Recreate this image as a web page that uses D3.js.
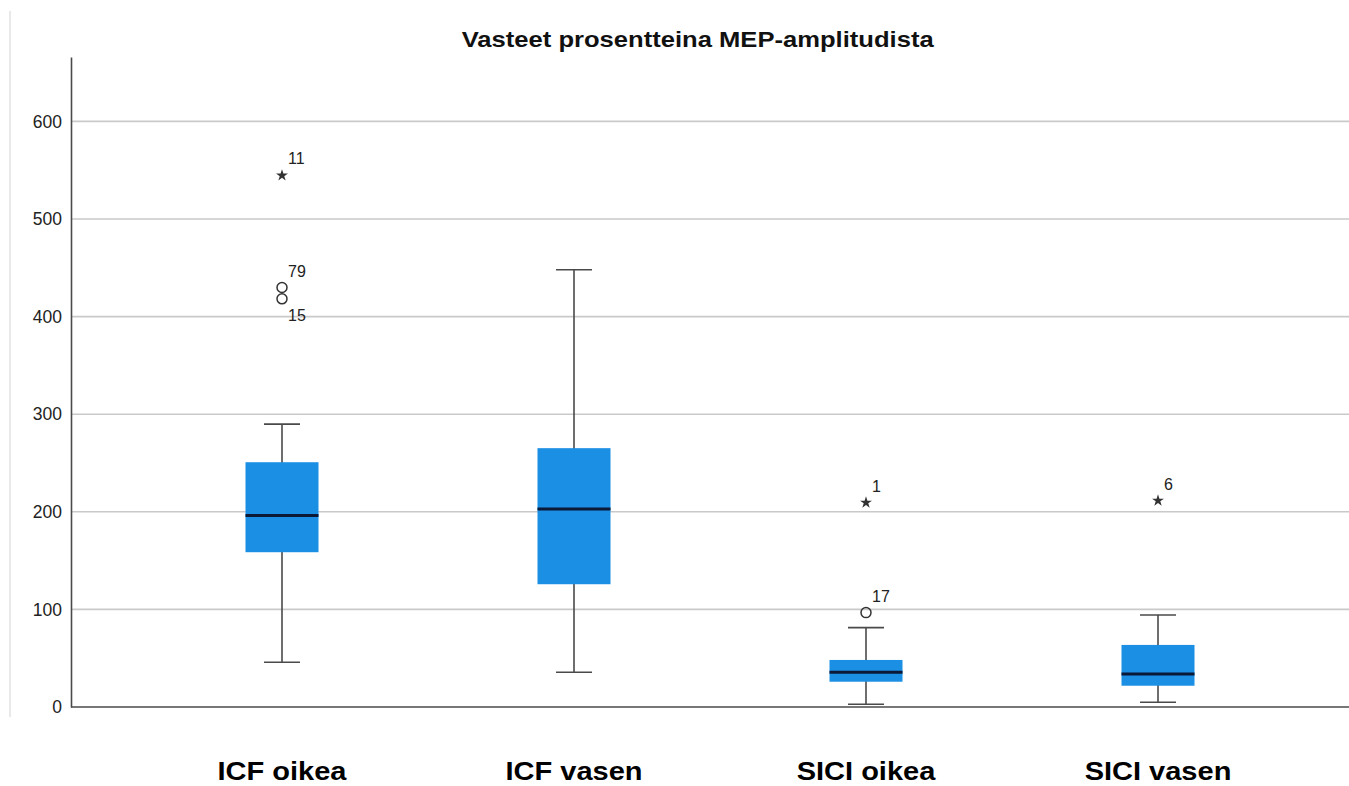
<!DOCTYPE html>
<html>
<head>
<meta charset="utf-8">
<script src="https://cdn.jsdelivr.net/npm/d3@7"></script>
<style>
  html, body { margin: 0; padding: 0; background: #fff; }
  svg { display: block; font-family: "Liberation Sans", Arial, sans-serif; }
</style>
</head>
<body>
<svg id="chart" width="1349" height="786"></svg>
<script>
// ---- data ----
const title = "Vasteet prosentteina MEP-amplitudista";
const categories = ["ICF oikea", "ICF vasen", "SICI oikea", "SICI vasen"];
const whiskerLow  = [45.8, 35.6, 2.8, 4.8];
const q1          = [158.6, 125.8, 25.9, 21.8];
const medians     = [196.1, 203.0, 35.6, 33.8];
const q3          = [250.8, 265.2, 48.2, 63.6];
const whiskerHigh = [289.8, 448.0, 81.3, 94.3];
// outliers: category, value, case label, type (circle = outlier, star = extreme)
const outlierCategory = ["ICF oikea", "ICF oikea", "ICF oikea", "SICI oikea", "SICI oikea", "SICI vasen"];
const outlierValue    = [544.6, 429.8, 418.2, 209.4, 96.7, 211.5];
const outlierLabel    = ["11", "79", "15", "1", "17", "6"];
const outlierType     = ["star", "circle", "circle", "star", "circle", "star"];
const yTicks = [0, 100, 200, 300, 400, 500, 600];
const yMax = 666;

// ---- layout ----
const svg = d3.select("#chart");
const axisX = 71, plotRight = 1349, plotTop = 57, plotBottom = 707;
const firstCenter = 282, lastCenter = 1158;

const x = d3.scalePoint().domain(categories).range([firstCenter, lastCenter]);
const y = d3.scaleLinear().domain([0, yMax]).range([plotBottom, plotTop]);

const boxW = 73, capW = 36;
const blue = "#1b8fe4", lineCol = "#4a4a4a";

// frame line at left
svg.append("line").attr("x1", 10).attr("x2", 10).attr("y1", 11).attr("y2", 717)
  .attr("stroke", "#e2e2e2").attr("stroke-width", 1.5);

// title
svg.append("text").attr("x", 697.7).attr("y", 46.5).attr("text-anchor", "middle")
  .attr("font-size", 22.5).attr("font-weight", "bold").attr("fill", "#111").text(title)
  .attr("textLength", 472).attr("lengthAdjust", "spacingAndGlyphs");

// gridlines
svg.append("g").selectAll("line").data(yTicks.filter(d => d > 0)).join("line")
  .attr("x1", axisX + 1).attr("x2", plotRight)
  .attr("y1", d => y(d)).attr("y2", d => y(d))
  .attr("stroke", "#c9c9c9").attr("stroke-width", 1.6);

// y axis
const yAxis = d3.axisLeft(y).tickValues(yTicks).tickSize(0).tickPadding(9).tickFormat(d3.format("d"));
const gy = svg.append("g").attr("transform", `translate(${axisX},0)`).call(yAxis);
gy.select(".domain").attr("stroke", lineCol).attr("stroke-width", 1.6);
gy.selectAll("text").attr("font-size", 17.5).attr("fill", "#222")
  .attr("font-family", "'Liberation Sans', Arial, sans-serif");

// x axis baseline
svg.append("line").attr("x1", axisX).attr("x2", plotRight)
  .attr("y1", y(0)).attr("y2", y(0)).attr("stroke", lineCol).attr("stroke-width", 1.6);

// boxes
const stats = categories.map((c, i) => ({
  c, lo: whiskerLow[i], q1: q1[i], med: medians[i], q3: q3[i], hi: whiskerHigh[i]
}));
const gb = svg.append("g");
stats.forEach(s => {
  const cx = x(s.c);
  gb.append("line").attr("x1", cx).attr("x2", cx).attr("y1", y(s.hi)).attr("y2", y(s.lo))
    .attr("stroke", lineCol).attr("stroke-width", 1.6);
  [s.hi, s.lo].forEach(v => {
    gb.append("line").attr("x1", cx - capW / 2).attr("x2", cx + capW / 2)
      .attr("y1", y(v)).attr("y2", y(v)).attr("stroke", lineCol).attr("stroke-width", 1.6);
  });
  gb.append("rect").attr("x", cx - boxW / 2).attr("width", boxW)
    .attr("y", y(s.q3)).attr("height", y(s.q1) - y(s.q3)).attr("fill", blue);
  gb.append("line").attr("x1", cx - boxW / 2).attr("x2", cx + boxW / 2)
    .attr("y1", y(s.med)).attr("y2", y(s.med)).attr("stroke", "#0b1836").attr("stroke-width", 3);
});

// outliers
const outliers = outlierValue.map((v, i) => ({
  c: outlierCategory[i], v, label: outlierLabel[i], type: outlierType[i]
}));
const go = svg.append("g");
outliers.forEach((o, i) => {
  const cx = x(o.c), cy = y(o.v);
  if (o.type === "star") {
    go.append("path").attr("d", d3.symbol(d3.symbolStar, 44)())
      .attr("transform", `translate(${cx},${cy})`).attr("fill", "#333");
  } else {
    go.append("circle").attr("cx", cx).attr("cy", cy).attr("r", 5)
      .attr("fill", "none").attr("stroke", "#333").attr("stroke-width", 1.5);
  }
  // if another outlier of the same group sits just above, place the label below
  const crowdedAbove = outliers.some((p, j) => j !== i && p.c === o.c && p.v > o.v && (y(o.v) - y(p.v)) < 20);
  go.append("text").attr("x", cx + 6).attr("y", crowdedAbove ? cy + 22.5 : cy - 11)
    .attr("font-size", 16).attr("fill", "#222").text(o.label);
});

// category labels
svg.append("g").selectAll("text").data(categories).join("text")
  .attr("x", d => x(d)).attr("y", 780).attr("text-anchor", "middle")
  .attr("font-size", 25).attr("font-weight", "bold").attr("fill", "#000")
  .text(d => d)
  .each(function () {
    const w = this.getComputedTextLength();
    d3.select(this).attr("textLength", w * 1.16).attr("lengthAdjust", "spacingAndGlyphs");
  });
</script>
</body>
</html>
